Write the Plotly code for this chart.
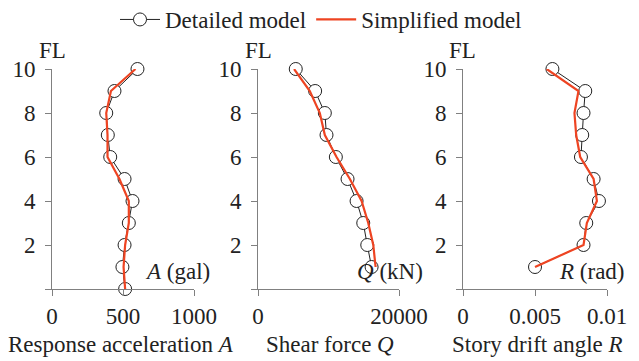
import plotly.graph_objects as go

floors_a = [10, 9, 8, 7, 6, 5, 4, 3, 2, 1, 0]
acc_detailed = [602, 440, 382, 393, 410, 511, 567, 541, 511, 496, 515]
acc_simplified = [588, 415, 382, 391, 391, 475, 541, 541, 515, 504, 515]

floors_q = [10, 9, 8, 7, 6, 5, 4, 3, 2, 1]
shear_detailed = [5355, 8104, 9479, 9716, 11043, 12701, 13981, 14929, 15498, 16114]
shear_simplified = [5118, 7346, 8768, 9479, 11137, 13033, 14692, 15640, 16351, 16682]

floors_r = [10, 9, 8, 7, 6, 5, 4, 3, 2, 1]
drift_detailed = [0.00621, 0.00849, 0.00837, 0.00828, 0.00819, 0.00907, 0.00944, 0.00856, 0.00837, 0.0050]
drift_simplified = [0.00581, 0.00802, 0.00774, 0.00786, 0.00814, 0.00907, 0.00930, 0.00860, 0.00837, 0.0050]

y_ticks = [0, 2, 4, 6, 8, 10]
y_ticklabels = ["", "2", "4", "6", "8", "10"]

FONT = "Liberation Serif, Times New Roman, serif"
FS = 23
RED = "#EE4422"
AXC = "#808080"
TXT = "#222222"
W, H = 639, 361
OFF = 8  # page body margin offset


def px(x):
    return (x - OFF) / W


def py(y):
    return (H - (y - OFF)) / H


fig = go.Figure()

panels = [
    (acc_detailed, acc_simplified, floors_a, "x", "y"),
    (shear_detailed, shear_simplified, floors_q, "x2", "y2"),
    (drift_detailed, drift_simplified, floors_r, "x3", "y3"),
]
for i, (d, s, fl, xa, ya) in enumerate(panels):
    fig.add_trace(go.Scatter(
        x=d, y=fl, xaxis=xa, yaxis=ya, mode="lines+markers",
        name="Detailed model", showlegend=(i == 0), cliponaxis=False,
        line=dict(color="#222222", width=1),
        marker=dict(symbol="circle", size=13, color="white",
                    line=dict(color="#222222", width=1)),
    ))
for i, (d, s, fl, xa, ya) in enumerate(panels):
    fig.add_trace(go.Scatter(
        x=s, y=fl, xaxis=xa, yaxis=ya, mode="lines",
        name="Simplified model", showlegend=(i == 0), cliponaxis=False,
        line=dict(color=RED, width=2.2),
    ))

doms = [(52, 194), (258, 399), (463, 607)]
ydom = [py(289), py(69)]
xranges = [[0, 1000], [0, 20000], [0, 0.01]]
xtickvals = [[0, 500, 1000], [0, 20000], [0, 0.005, 0.01]]
xticktext = [["0", "500", "1000"], ["0", "20000"], ["0", "0.005", "0.01"]]
xtitles = ["Response acceleration <i>A</i>", "Shear force <i>Q</i>", "Story drift angle <i>R</i>"]
title_x = [121, 330, 537]
units = ["<i>A</i> (gal)", "<i>Q</i> (kN)", "<i>R</i> (rad)"]
unit_x = [212, 425, 627]

layout = dict(
    width=W, height=H,
    margin=dict(l=0, r=0, t=0, b=0, autoexpand=False),
    paper_bgcolor="white", plot_bgcolor="white",
    font=dict(family=FONT, size=FS, color=TXT),
    showlegend=True,
    legend=dict(orientation="h", x=px(321), xanchor="center", y=1 + 10 / H, yanchor="top",
                font=dict(family=FONT, size=FS, color=TXT), itemwidth=40,
                bgcolor="rgba(0,0,0,0)"),
)
annotations = []
for i in range(3):
    sfx = "" if i == 0 else str(i + 1)
    layout["xaxis" + sfx] = dict(
        domain=[px(doms[i][0]), px(doms[i][1])], range=xranges[i],
        anchor="y" + sfx, showgrid=False, zeroline=False, automargin=False,
        showline=True, linecolor=AXC, linewidth=1,
        ticks="outside", ticklen=6, tickcolor=AXC,
        tickvals=xtickvals[i], ticktext=xticktext[i],
        tickfont=dict(family=FONT, size=FS, color=TXT),
    )
    layout["yaxis" + sfx] = dict(
        domain=ydom, range=[0, 10], anchor="x" + sfx,
        showgrid=False, zeroline=False, automargin=False,
        showline=True, linecolor=AXC, linewidth=1,
        ticks="outside", ticklen=6, tickcolor=AXC, ticklabelstandoff=5,
        tickvals=y_ticks, ticktext=y_ticklabels,
        tickfont=dict(family=FONT, size=FS, color=TXT),
    )
    annotations.append(dict(
        text="FL", xref="paper", yref="paper", x=px(doms[i][0]), y=py(50),
        xanchor="center", yanchor="middle", showarrow=False,
        font=dict(family=FONT, size=FS, color=TXT),
    ))
    annotations.append(dict(
        text=units[i], xref="paper", yref="paper", x=px(unit_x[i]), y=py(271),
        xanchor="right", yanchor="middle", showarrow=False,
        font=dict(family=FONT, size=FS, color=TXT),
    ))
    annotations.append(dict(
        text=xtitles[i], xref="paper", yref="paper",
        x=px(title_x[i]), y=py(344),
        xanchor="center", yanchor="middle", showarrow=False,
        font=dict(family=FONT, size=FS, color=TXT),
    ))
layout["annotations"] = annotations
fig.update_layout(**layout)

fig.write_html("out.html")
